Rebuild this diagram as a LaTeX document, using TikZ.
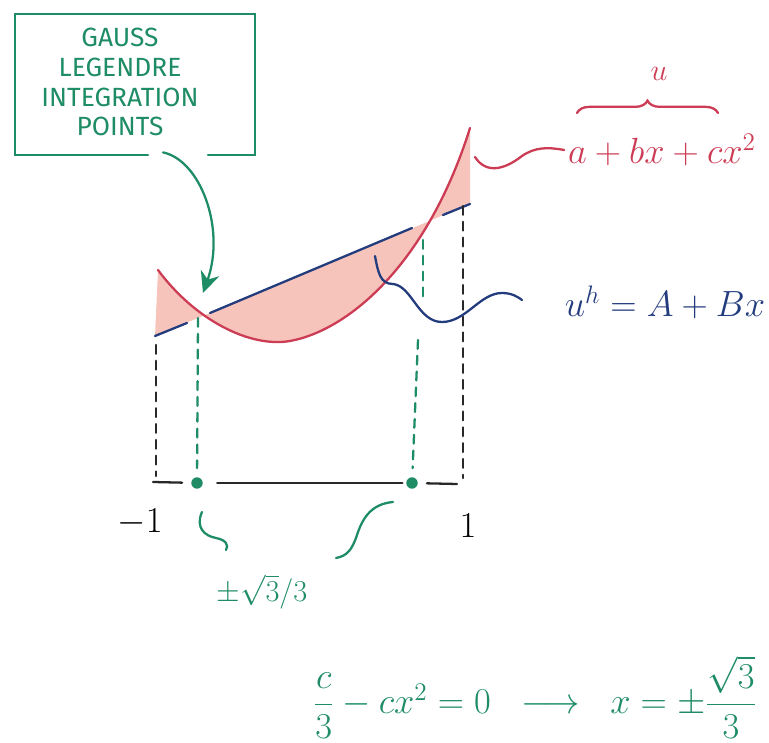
\documentclass[tikz,border=0pt]{standalone}
\usepackage{fontspec}
\setmainfont{Fira Sans}
\usepackage{amsmath}
\usetikzlibrary{arrows, arrows.meta, positioning, calc, decorations.pathreplacing}

\definecolor{penGreen}{RGB}{30,140,100}
\definecolor{penRed}{RGB}{205,60,85}
\definecolor{penBlue}{RGB}{35,60,125}
\definecolor{penFill}{RGB}{246,196,186}
\definecolor{penBlack}{RGB}{40,40,40}

\tikzstyle{pen} = [line width=1.3pt, line cap=round]
\tikzstyle{note} = [align=center, text=penGreen, font=\fontsize{15}{17}\selectfont]
\tikzstyle{arrow} = [pen, penGreen, -{Stealth[length=12pt,width=11pt]}]
\tikzstyle{blackdash} = [pen, penBlack, dash pattern=on 5pt off 4pt]
\tikzstyle{greendash} = [pen, penGreen, dash pattern=on 5pt off 4pt]
\tikzstyle{gdot} = [circle, fill=penGreen, inner sep=0pt, minimum size=6.5pt]
\tikzstyle{mathlabel} = [inner sep=2pt, font=\fontsize{20}{22}\selectfont]

\begin{document}
\begin{tikzpicture}[x=0.02cm, y=-0.02cm]
        \useasboundingbox (0,0) rectangle (769,743);

        % note box with the gap for the arrow
        \node[note] (gauss) at (120,82) {GAUSS\\LEGENDRE\\INTEGRATION\\POINTS};
        \draw[pen, penGreen] (148,155) -| (15,14) -| (255,155) -- (208,155);

        % shaded error between u and u^h
        \fill[penFill] (158,270) .. controls (195,320) and (250,348) .. (290,341) .. controls (350,330) and (428,262) .. (470,128)
            -- (470,204) -- (155,336) -- cycle;
        \draw[pen, penRed] (158,270) .. controls (195,320) and (250,348) .. (290,341) .. controls (350,330) and (428,262) .. (470,128);
        \draw[pen, penBlue] (155,336) -- (187,323);
        \draw[pen, penBlue] (210,313) -- (412,228);
        \draw[pen, penBlue] (443,215) -- (470,204);

        % element and integration points
        \node[gdot] (gp1) at (197,483) {};
        \node[gdot] (gp2) at (412,483) {};
        \coordinate (axl) at (153,482);
        \coordinate (axr) at (457,484);
        \draw[pen, penBlack, shorten >=5pt] (axl) -- (gp1);
        \draw[pen, penBlack, shorten <=8pt, shorten >=2pt] (gp1) -- (gp2);
        \draw[pen, penBlack, shorten <=5pt] (gp2) -- (axr);

        \draw[blackdash] (156,345) -- (156,476);
        \draw[blackdash] (463,206) -- (463,478);
        \draw[greendash, shorten >=5pt] (198,318) -- (gp1);
        \draw[greendash] (423,240) -- (423,300);
        \draw[greendash, shorten >=5pt] (418,340) -- (gp2);

        \node[mathlabel] (mone) at (140,522) {$-1$};
        \node[mathlabel] (one) at (468,526) {$1$};

        % arrow from the note
        \coordinate (tip1) at (203,293);
        \draw[arrow] ($(gauss.south)+(43,10)$) .. controls (200,160) and (226,228) .. (tip1);

        % exact solution
        \node[mathlabel, text=penRed] (poly) at (662,150) {$a + bx + cx^2$};
        \draw[pen, penRed, decorate, decoration={brace, amplitude=7pt}] (577,113) -- (718,113);
        \node[text=penRed, font=\fontsize{16}{18}\selectfont] (uex) at (659,74) {$u$};
        \coordinate (redtop) at (475,157);
        \draw[pen, penRed] (redtop) .. controls (486,174) and (504,170) .. (522,156) .. controls (535,147) and (548,147) .. (poly.west);

        % approximation
        \node[mathlabel, text=penBlue] (uh) at (665,302) {$u^h = A + Bx$};
        \coordinate (bluept) at (375,256);
        \coordinate (bluetail) at (522,300);
        \draw[pen, penBlue] (bluept) .. controls (378,272) and (380,284) .. (393,284) .. controls (412,286) and (418,322) .. (442,322) .. controls (466,322) and (480,293) .. (502,293) .. controls (512,293) and (518,297) .. (bluetail);

        % position of the points
        \node[mathlabel, text=penGreen, font=\fontsize{18}{20}\selectfont] (pm) at (262,592) {$\pm\sqrt{3}/3$};
        \coordinate (gl) at (202,512);
        \coordinate (gr) at (393,502);
        \draw[pen, penGreen] (gl) .. controls (195,528) and (205,536) .. (216,538) .. controls (226,540) and (229,545) .. (226,550);
        \draw[pen, penGreen] (gr) .. controls (370,504) and (362,520) .. (357,535) .. controls (352,550) and (347,556) .. (336,558);

        \node[mathlabel, text=penGreen, font=\fontsize{21}{23}\selectfont] (eqn) at (535,697) {$\dfrac{c}{3} - cx^2 = 0 \;\;\longrightarrow\;\; x = \pm\dfrac{\sqrt{3}}{3}$};
    \end{tikzpicture}
\end{document}
